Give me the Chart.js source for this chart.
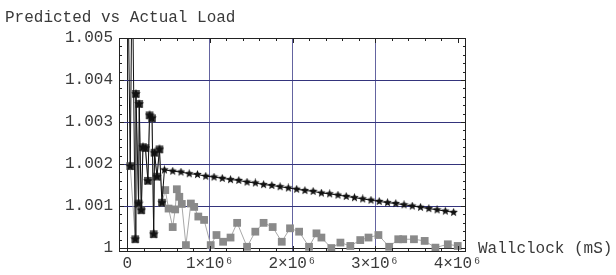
<!DOCTYPE html>
<html>
<head>
<meta charset="utf-8">
<script src="https://cdn.jsdelivr.net/npm/chart.js@4/dist/chart.umd.min.js"></script>
<style>
  html, body { margin: 0; padding: 0; background: #fff; }
  #wrap { width: 616px; height: 275px; position: relative; }
</style>
</head>
<body>
<div id="wrap"><canvas id="loadChart"></canvas></div>
<script>
// Predicted load (stars)
const predX = [1e4, 3.6e4, 6e4, 9.7e4, 1.05e5, 1.37e5, 1.45e5, 1.7e5, 1.9e5, 2.2e5, 2.5e5, 2.7e5, 3.0e5, 3.2e5, 3.3e5, 3.6e5, 3.9e5, 4.2e5,
  4.5e5, 5.5e5, 6.5e5, 7.5e5, 8.5e5, 9.5e5, 1.05e6, 1.15e6, 1.25e6, 1.35e6, 1.45e6, 1.55e6, 1.65e6, 1.75e6, 1.85e6, 1.95e6,
  2.05e6, 2.15e6, 2.25e6, 2.35e6, 2.45e6, 2.55e6, 2.65e6, 2.75e6, 2.85e6, 2.95e6, 3.05e6, 3.15e6, 3.25e6, 3.35e6, 3.45e6,
  3.55e6, 3.65e6, 3.75e6, 3.85e6, 3.95e6];
const predY = [1.0062, 1.00195, 1.0070, 1.00021, 1.00367, 1.00106, 1.00343, 1.0009, 1.0024, 1.00238, 1.0016, 1.00316, 1.00309, 1.00033, 1.00227, 1.0017, 1.00235, 1.00108,
  1.00186, 1.00183, 1.00181, 1.00177, 1.00175, 1.00171, 1.00169, 1.00166, 1.00163, 1.00161, 1.00157, 1.00155, 1.00151, 1.00149, 1.00146, 1.00143,
  1.00140, 1.00137, 1.00135, 1.00131, 1.00129, 1.00126, 1.00123, 1.00120, 1.00117, 1.00114, 1.00111, 1.00108, 1.00106, 1.00103, 1.00100,
  1.00097, 1.00094, 1.00091, 1.00088, 1.00085];
const predEarly = 18; // first spiky points get bigger stars

// Actual load (grey squares)
const actX = [3.6e4, 9.7e4, 1.05e5, 1.37e5, 1.45e5, 1.7e5, 1.9e5, 2.2e5, 2.5e5, 2.7e5, 3.0e5, 3.2e5, 3.3e5, 3.6e5, 3.9e5, 4.2e5,
  4.6e5, 5.0e5, 5.5e5, 5.8e5, 6.0e5, 6.3e5, 6.6e5, 7.1e5, 7.7e5, 8.1e5, 8.6e5, 9.3e5, 1.01e6, 1.08e6, 1.16e6, 1.25e6, 1.33e6,
  1.45e6, 1.55e6, 1.65e6, 1.76e6, 1.87e6, 1.97e6, 2.08e6, 2.2e6, 2.29e6, 2.35e6, 2.47e6, 2.58e6, 2.7e6, 2.82e6, 2.92e6, 3.04e6,
  3.17e6, 3.28e6, 3.34e6, 3.47e6, 3.6e6, 3.73e6, 3.88e6, 4.0e6];
const actY = [1.00195, 1.00021, 1.00367, 1.00106, 1.00343, 1.0009, 1.0024, 1.00238, 1.0016, 1.00316, 1.00309, 1.00033, 1.00227, 1.0017, 1.00235, 1.00108,
  1.00138, 1.00094, 1.0005, 1.00092, 1.0014, 1.00122, 1.00105, 1.00007, 1.00106, 1.00098, 1.00075, 1.00067, 1.00007, 1.00031, 1.00015, 1.00025, 1.0006,
  1.00003, 1.00039, 1.0006, 1.0005, 1.00015, 1.00047, 1.00039, 1.00003, 1.00035, 1.00025, 1.0, 1.00013, 1.00005, 1.00019, 1.00025, 1.00031,
  1.00003, 1.00021, 1.00021, 1.00021, 1.00017, 1.00001, 1.00009, 1.00005];
const actEarly = 16;

// Axes
const xTicks = [0, 1e6, 2e6, 3e6, 4e6];
const xTickLabels = ['0', '1×10⁶', '2×10⁶', '3×10⁶', '4×10⁶'];
const yTicks = [1, 1.001, 1.002, 1.003, 1.004, 1.005];
const yTickLabels = ['1', '1.001', '1.002', '1.003', '1.004', '1.005'];
const xRange = [-1e5, 4.1e6];
const yRange = [0.99993, 1.005];

const MONO = '"Liberation Mono", "Courier New", monospace';
const TEXT = '#3a3a3a';

// little filled star used as the point marker
function makeStar(size) {
  const c = document.createElement('canvas');
  c.width = size; c.height = size;
  const g = c.getContext('2d');
  const cx = size / 2, cy = size / 2, ro = size / 2, ri = ro * 0.45;
  g.beginPath();
  for (let i = 0; i < 10; i++) {
    const r = i % 2 ? ri : ro;
    const a = -Math.PI / 2 + i * Math.PI / 5;
    g.lineTo(cx + r * Math.cos(a), cy + r * Math.sin(a));
  }
  g.closePath();
  g.fillStyle = '#111';
  g.fill();
  return c;
}
const smallStar = makeStar(9);
const bigStar = makeStar(10);

// frame, minor ticks and free text
const framePlugin = {
  id: 'frame',
  afterDraw(chart) {
    const { ctx, chartArea: a, scales } = chart;
    ctx.save();
    ctx.strokeStyle = '#222';
    ctx.lineWidth = 1;
    ctx.strokeRect(a.left + 0.5, a.top + 0.5, a.right - a.left - 1, a.bottom - a.top);
    ctx.beginPath();
    for (let v = 0; v <= 4e6 + 1; v += 2e5) {
      const px = Math.round(scales.x.getPixelForValue(v)) + 0.5;
      const len = v % 1e6 === 0 ? 5 : 3;
      ctx.moveTo(px, a.bottom); ctx.lineTo(px, a.bottom - len);
      ctx.moveTo(px, a.top); ctx.lineTo(px, a.top + len);
    }
    for (let k = 0; k <= 25; k++) {
      const v = 1 + k * 0.0002;
      const py = Math.round(scales.y.getPixelForValue(v)) + 0.5;
      const len = k % 5 === 0 ? 5 : 3;
      ctx.moveTo(a.left, py); ctx.lineTo(a.left + len, py);
      ctx.moveTo(a.right, py); ctx.lineTo(a.right - len, py);
    }
    ctx.stroke();
    ctx.fillStyle = TEXT;
    ctx.font = '16px ' + MONO;
    ctx.textBaseline = 'alphabetic';
    ctx.textAlign = 'left';
    ctx.fillText('Predicted vs Actual Load', 5, 22);
    ctx.textBaseline = 'middle';
    ctx.fillText('Wallclock (mS)', a.right + 12, scales.y.getPixelForValue(1) + 1);
    ctx.restore();
  }
};

new Chart(document.getElementById('loadChart'), {
  type: 'scatter',
  data: {
    datasets: [{
      label: 'Predicted',
      data: predX.map((x, i) => ({ x, y: predY[i] })),
      showLine: true,
      borderColor: '#111',
      borderWidth: 1,
      pointStyle: ctx => ctx.dataIndex < predEarly ? bigStar : smallStar,
      order: 0
    }, {
      label: 'Actual',
      data: actX.map((x, i) => ({ x, y: actY[i] })),
      showLine: true,
      borderColor: '#a8a8a8',
      borderWidth: 1,
      pointStyle: 'rect',
      pointRadius: 5.5,
      pointBorderWidth: 0,
      pointBackgroundColor: ctx => ctx.dataIndex < actEarly ? '#555' : '#8a8a8a',
      order: 1
    }]
  },
  options: {
    responsive: true,
    maintainAspectRatio: false,
    animation: false,
    layout: { padding: { left: 0, top: 38, right: 150, bottom: 0 } },
    plugins: { legend: { display: false }, tooltip: { enabled: false } },
    scales: {
      x: {
        type: 'linear',
        min: xRange[0],
        max: xRange[1],
        afterBuildTicks: s => { s.ticks = xTicks.map(v => ({ value: v })); },
        afterFit: s => { s.height = 24; },
        border: { display: false },
        grid: {
          drawTicks: false,
          color: c => c.tick.value === 0 ? '#222' : (c.tick.value === 4e6 ? 'rgba(0,0,0,0)' : '#6464a0'),
          lineWidth: 1
        },
        ticks: {
          padding: 3,
          color: TEXT,
          font: { family: MONO, size: 16 },
          maxRotation: 0,
          callback: v => xTickLabels[xTicks.indexOf(v)]
        }
      },
      y: {
        min: yRange[0],
        max: yRange[1],
        afterBuildTicks: s => { s.ticks = yTicks.map(v => ({ value: v })); },
        afterFit: s => { s.width = 119; },
        border: { display: false },
        grid: {
          drawTicks: false,
          color: c => c.tick.value === 1 ? '#222' : (c.tick.value === 1.005 ? 'rgba(0,0,0,0)' : '#34347c'),
          lineWidth: 1
        },
        ticks: {
          padding: 6,
          color: TEXT,
          font: { family: MONO, size: 16 },
          callback: v => yTickLabels[yTicks.findIndex(t => Math.abs(t - v) < 1e-9)]
        }
      }
    }
  },
  plugins: [framePlugin]
});
</script>
</body>
</html>
